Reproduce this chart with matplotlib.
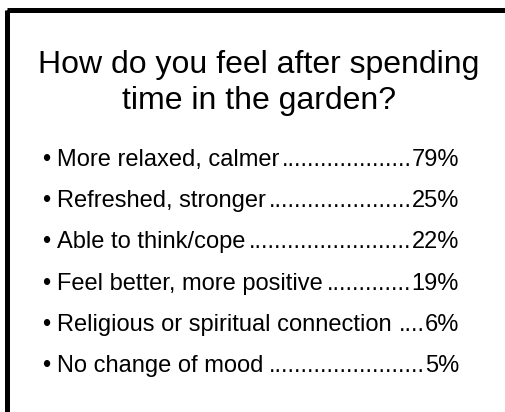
import matplotlib
matplotlib.use("Agg")
import matplotlib.pyplot as plt
from matplotlib.patches import Rectangle

plt.rcParams['font.family'] = ['Liberation Sans', 'DejaVu Sans']

# Slide content
title_lines = ["How do you feel after spending", "time in the garden?"]
feelings = ["More relaxed, calmer", "Refreshed, stronger", "Able to think/cope",
            "Feel better, more positive", "Religious or spiritual connection",
            "No change of mood"]
percents = [79, 25, 22, 19, 6, 5]

W, H = 506, 412
fig = plt.figure(figsize=(W / 100, H / 100), dpi=100)
ax = fig.add_axes([0, 0, 1, 1])
ax.set_xlim(0, W)
ax.set_ylim(H, 0)
ax.axis('off')

# slide frame, cut off at right and bottom
ax.add_patch(Rectangle((7.5, 9.5), 600, 600, fill=False, lw=3.6, ec='black'))

# title
ax.text(259, 73, title_lines[0], fontsize=23, ha='center', va='baseline')
ax.text(259, 109, title_lines[1], fontsize=23, ha='center', va='baseline')

fig.canvas.draw()
r = fig.canvas.get_renderer()
inv = ax.transData.inverted()


def width_of(s, size):
    t = ax.text(0, 0, s, fontsize=size)
    bb = t.get_window_extent(renderer=r)
    t.remove()
    x0 = inv.transform((bb.x0, 0))[0]
    x1 = inv.transform((bb.x1, 0))[0]
    return x1 - x0


fs = 17
left, right = 57, 459
dot_w = width_of("." * 40, fs) / 40
for i, (lab, p) in enumerate(zip(feelings, percents)):
    y = 166 + i * 41.2
    pct = f"{p}%"
    pw = width_of(pct, fs)
    avail = right - pw - left - width_of(lab, fs) - 2
    n = max(int(avail / dot_w), 0)
    ax.text(42, y, "\u2022", fontsize=fs, ha='left', va='baseline')
    ax.text(left, y, lab, fontsize=fs, ha='left', va='baseline')
    ax.text(right - pw, y, "." * n, fontsize=fs, ha='right', va='baseline')
    ax.text(right, y, pct, fontsize=fs, ha='right', va='baseline')

fig.savefig("out.png", dpi=100)
